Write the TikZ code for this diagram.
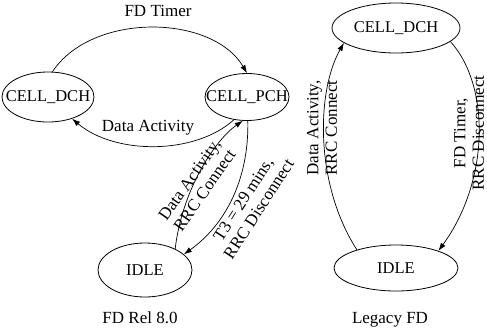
\documentclass[tikz,border=0pt]{standalone}
\usepackage{fontspec}
\setmainfont{Liberation Serif}
\usetikzlibrary{shapes.geometric,arrows.meta}

\newcommand{\statefont}{\fontsize{16.5}{18}\selectfont}
\tikzset{
  state/.style={ellipse, draw, line width=0.8pt, inner sep=0pt},
  txt/.style={font=\fontsize{17}{18.5}\selectfont, inner sep=0pt, align=center},
  trans/.style={line width=0.7pt, -{Latex[length=8pt,width=5.5pt]}}
}

\begin{document}
\begin{tikzpicture}[x=1pt,y=-1pt]
\useasboundingbox (0,0) rectangle (487,330);

% ---- FD Rel 8.0 ----
\node[state, minimum width=92pt, minimum height=50pt] (dchL) at (48,97)
  {\makebox[0pt]{\statefont CELL\_DCH}};
\node[state, minimum width=84pt, minimum height=47pt] (pchL) at (247,97)
  {\makebox[0pt]{\statefont CELL\_PCH}};
\node[state, minimum width=94pt, minimum height=54pt] (idleL) at (145,270)
  {\makebox[0pt]{\statefont IDLE}};

\draw[trans] (dchL.80) .. controls (92,12) and (212,14) .. (pchL.north);
\draw[trans] (pchL.240) .. controls (195,155) and (115,155) .. (dchL.318);
\draw[trans] (idleL.35) .. controls (182,190) and (215,140) .. (pchL.260);
\draw[trans] (pchL.272) .. controls (249,180) and (225,225) .. (idleL.22);

\node[txt, anchor=base] (lblTimer) at (158,16) {FD Timer};
\node[txt, anchor=base] (lblData) at (148,131) {Data Activity};
\node[txt, rotate=55] (lblConn) at (197,185) {Data Activity,\\RRC Connect};
\node[txt, rotate=57] (lblDisc) at (251,204) {T3 = 29 mins,\\RRC Disconnect};
\node[txt, anchor=base] (capL) at (140,323) {FD Rel 8.0};

% ---- Legacy FD ----
\node[state, minimum width=128pt, minimum height=50pt] (dchR) at (396,28)
  {\makebox[0pt]{\statefont CELL\_DCH}};
\node[state, minimum width=124pt, minimum height=46pt] (idleR) at (396,268)
  {\makebox[0pt]{\statefont IDLE}};

\draw[trans] (idleR.155) .. controls (315,185) and (316,92) .. (dchR.196);
\draw[trans] (dchR.346) .. controls (490,85) and (490,180) .. (idleR.22);

\node[txt, rotate=90] (lblUp) at (322,128) {Data Activity,\\RRC Connect};
\node[txt, rotate=90] (lblDown) at (469,133) {FD Timer,\\RRC Disconnect};
\node[txt, anchor=base] (capR) at (390,323) {Legacy FD};
\end{tikzpicture}
\end{document}
